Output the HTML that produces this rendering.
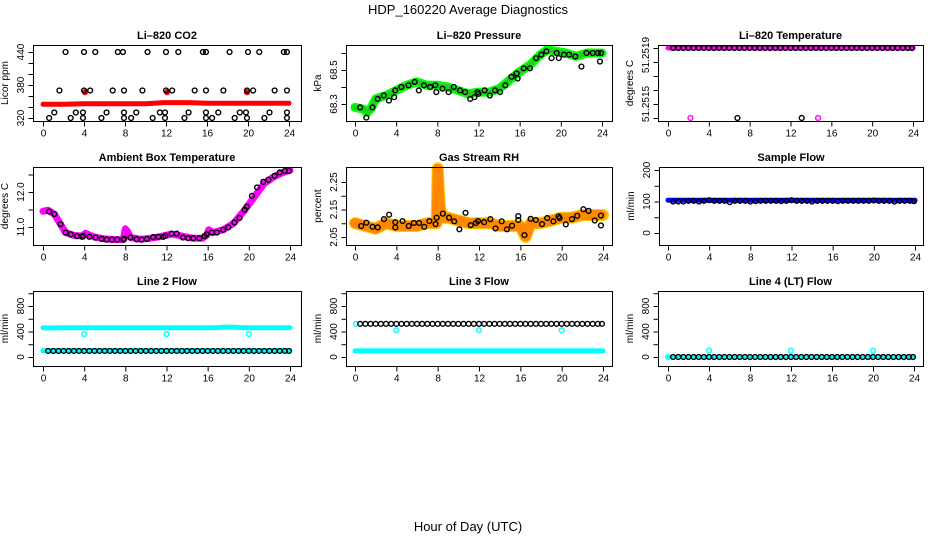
<!DOCTYPE html>
<html><head><meta charset="utf-8"><style>
html,body{margin:0;padding:0;background:#fff;}
svg{display:block;font-family:"Liberation Sans",Arial,sans-serif;}
.t{font-weight:bold;font-size:11px;}
.tk{font-size:10px;}
</style></head>
<body>
<svg id="c" width="936" height="540" viewBox="0 0 936 540">
<text x="468" y="14" text-anchor="middle" font-size="13">HDP_160220  Average Diagnostics</text>
<text x="468" y="531" text-anchor="middle" font-size="13">Hour of Day (UTC)</text>
</svg>
<script>
const xTicks=[0,4,8,12,16,20,24];
const halfHours=[0.5,1,1.5,2,2.5,3,3.5,4,4.5,5,5.5,6,6.5,7,7.5,8,8.5,9,9.5,10,10.5,11,11.5,12,12.5,13,13.5,14,14.5,15,15.5,16,16.5,17,17.5,18,18.5,19,19.5,20,20.5,21,21.5,22,22.5,23,23.5,23.9];
// CO2
const co2H440=[2.2,4,5.1,7.3,7.8,10.2,12,13.2,15.6,15.9,18.2,20,21.1,23.5,23.8];
const co2H370=[1.6,4,4.6,6.8,7.9,9.7,12,12.6,14.8,15.9,17.6,19.9,20.5,22.6,23.8];
const co2H330=[1.1,3.2,3.9,6.2,7.9,9.1,11.4,11.9,14.2,15.9,17.1,19.2,19.8,22.1,23.8];
const co2H320=[0.6,2.7,3.9,5.7,7.9,8.6,10.7,11.9,13.8,15.9,16.5,18.7,19.9,21.6,23.8];
const co2RedH=[0,2,4,6,8,10,11.8,12.5,14.2,16,18,20,22,24];
const co2RedV=[345,345,346,346,346,346,348,348,348,347,347,347,347,347];
const co2RedOutH=[4.1,12.1,19.9];
const co2RedOutV=[367,367,367];
// Pressure
const presH=[0.5,1.1,1.7,2.2,2.8,3.3,3.8,3.9,4.5,5.2,5.8,6.2,6.7,7.3,7.8,7.9,8.5,9.1,9.6,10.2,10.7,11.2,11.6,11.9,12.0,12.6,13.1,13.6,14.1,14.6,15.2,15.7,15.8,16.4,17.0,17.6,18.1,18.6,19.1,19.6,19.8,20.3,20.8,21.4,22.0,22.5,23.1,23.6,23.8,23.9];
const presV=[68.28,68.22,68.28,68.33,68.35,68.32,68.34,68.38,68.40,68.41,68.43,68.38,68.41,68.40,68.41,68.37,68.39,68.37,68.40,68.38,68.37,68.33,68.34,68.37,68.36,68.38,68.35,68.38,68.37,68.41,68.46,68.48,68.45,68.51,68.51,68.57,68.59,68.61,68.57,68.60,68.57,68.59,68.59,68.58,68.52,68.60,68.60,68.60,68.55,68.60];
const presGreenH=[0,0.8,1.2,1.6,2.0,3,4,5,6,7,8,9,10,11,12,13,14,15,16,17,18,18.7,19.5,20.5,21.5,22.5,24];
const presGreenV=[68.28,68.27,68.25,68.28,68.33,68.35,68.38,68.41,68.43,68.41,68.41,68.40,68.38,68.36,68.37,68.37,68.39,68.44,68.49,68.53,68.59,68.62,68.61,68.60,68.58,68.60,68.60];
// Li-820 temperature
const tempTop=51.2519;
const tempMagOutH=[2.2,14.7];
const tempBlkOutH=[6.8,13.1];
const tempLow=51.2514;
// Ambient box temperature
const ambH=[0.6,1.1,1.7,2.2,2.7,3.3,3.8,3.9,4.5,5.1,5.7,6.2,6.7,7.2,7.8,7.9,8.5,9.1,9.6,10.1,10.7,11.2,11.7,11.9,12.5,13.0,13.6,14.1,14.6,15.2,15.7,15.9,16.4,16.9,17.5,18.0,18.6,19.1,19.6,19.8,20.3,20.8,21.4,21.9,22.5,23.0,23.5,23.9];
const ambV=[11.44,11.37,11.08,10.84,10.79,10.74,10.72,10.75,10.72,10.70,10.66,10.64,10.64,10.64,10.64,10.66,10.70,10.65,10.64,10.66,10.71,10.72,10.72,10.75,10.81,10.81,10.70,10.68,10.68,10.68,10.74,10.79,10.84,10.84,10.92,10.99,11.13,11.26,11.49,11.58,11.89,12.13,12.29,12.35,12.46,12.56,12.60,12.60];
const ambMagH=[0,0.5,1.1,1.7,2.2,3,3.9,4.1,5,6,7,7.8,8.0,8.2,8.5,9.5,10.5,11.5,12.5,13.5,14.5,15.5,15.9,16.1,16.5,17.5,18.5,19.5,20.5,21.5,22.5,23.5,24];
const ambMagV=[11.45,11.48,11.37,11.08,10.84,10.76,10.74,10.82,10.71,10.66,10.64,10.64,10.95,10.88,10.70,10.65,10.68,10.73,10.80,10.74,10.68,10.68,10.76,10.92,10.84,10.92,11.10,11.45,11.85,12.25,12.45,12.58,12.62];
// Gas stream RH
const rhH=[0.6,1.1,1.7,2.2,2.8,3.3,3.9,3.9,4.6,5.2,5.7,6.2,6.7,7.2,7.8,7.9,8.5,9.1,9.6,10.1,10.7,11.2,11.7,11.9,12.5,13.1,13.6,14.2,14.7,15.2,15.8,15.8,16.4,17.0,17.5,18.1,18.6,19.2,19.7,19.8,20.4,21.0,21.5,22.1,22.6,23.2,23.8,23.8];
const rhV=[2.090,2.102,2.087,2.085,2.115,2.131,2.104,2.085,2.108,2.090,2.101,2.101,2.087,2.108,2.097,2.120,2.135,2.120,2.107,2.078,2.138,2.093,2.101,2.108,2.104,2.115,2.081,2.107,2.078,2.091,2.112,2.126,2.057,2.116,2.112,2.097,2.119,2.107,2.125,2.119,2.096,2.115,2.127,2.151,2.145,2.110,2.128,2.092];
const rhBandH=[0,1,2,3,4,5,6,7,7.9,8.0,8.1,8.2,8.3,8.6,9,10,11,12,13,14,15,16,16.5,17,18,19,20,21,22,23,24];
const rhBandV=[2.10,2.09,2.08,2.10,2.09,2.09,2.09,2.10,2.10,2.30,2.23,2.17,2.14,2.12,2.12,2.11,2.10,2.10,2.10,2.09,2.09,2.09,2.05,2.10,2.10,2.11,2.12,2.12,2.13,2.13,2.13];
// Sample flow
const sfBlue=[104,104];
const sfBlueH=[0,24];
const sfBlack=[100,100,100,102,102,100,102,104,102,102,102,98,102,102,102,100,101,102,102,102,102,101,102,104,102,102,102,100,102,102,102,102,101,102,102,102,102,102,102,103,102,102,102,100,102,102,102,101];
// Line 2 flow
const l2CyanHighH=[0,0.5,2,8,16,17,18,19,20,24];
const l2CyanHighV=[460,455,460,460,460,462,470,462,460,460];
const l2CyanOutH=[4,12,20];
const l2CyanOutV=[360,360,360];
const l2Black=[95,95,95,95,95,95,95,95,95,95,95,95,95,95,95,95,95,95,95,95,95,95,95,95,95,95,95,95,95,95,95,95,95,95,95,95,95,95,95,95,95,95,95,95,95,95,95,95];
const l2CyanLowV=[100,100];
// Line 3 flow
const l3Black=[520,520,520,520,520,520,520,520,520,520,520,520,520,520,520,520,520,520,520,520,520,520,520,520,520,520,520,520,520,520,520,520,520,520,520,520,520,520,520,520,520,520,520,520,520,520,520,520];
const l3CyanOutH=[0.1,4,12,20];
const l3CyanOutV=[520,420,420,420];
const l3CyanLowV=[95,95];
// Line 4 flow
const l4Black=[0,0,0,0,0,0,0,0,0,0,0,0,0,0,0,0,0,0,0,0,0,0,0,0,0,0,0,0,0,0,0,0,0,0,0,0,0,0,0,0,0,0,0,0,0,0,0,0];
const l4CyanOutH=[0,4,12,20];
const l4CyanOutV=[0,100,100,100];
const flowTicks=[0,200,400,600,800,1000];
const flowLabels=[0,400,800];

const svg=document.getElementById('c');
const NS='http://www.w3.org/2000/svg';
function mk(tag,attrs,parent){const e=document.createElementNS(NS,tag);for(const k in attrs)e.setAttribute(k,attrs[k]);(parent||svg).appendChild(e);return e;}
function lin(d0,d1,r0,r1){return v=>r0+(v-d0)*(r1-r0)/(d1-d0);}

function panel(p){
  const g=mk('g',{});
  
  
  p.g=g;
  p.X=lin(0,24,p.x0,p.x24);
  p.Y=lin(p.yd[0],p.yd[1],p.yr[0],p.yr[1]);
  return p;
}
function frame(p){
  const g=p.g;
  const r=mk('rect',{x:p.box[0]+0.5,y:p.box[1]+0.5,width:p.box[2]-p.box[0],height:p.box[3]-p.box[1],fill:'none',stroke:'#000','stroke-width':1},g);
  
  
  const tt=mk('text',{x:(p.box[0]+p.box[2])/2,y:p.box[1]-6,'text-anchor':'middle',class:'t'},g);
  tt.textContent=p.title;
  
  
  const yb=p.box[3]+0.5;
  mk('line',{x1:p.X(0),x2:p.X(24),y1:yb,y2:yb,stroke:'#000'},g);
  xTicks.forEach(t=>{
    const x=p.X(t)+0.5;
    mk('line',{x1:x,x2:x,y1:yb,y2:yb+5,stroke:'#000'},g);
    if(p.xlabels){
      const tx=mk('text',{x:x,y:yb+15,'text-anchor':'middle',class:'tk'},g);
      tx.textContent=t;
      
      
    }
  });
  const xl=p.box[0]+0.5;
  const yt=p.yticks;
  mk('line',{x1:xl,x2:xl,y1:p.Y(yt[0]),y2:p.Y(yt[yt.length-1]),stroke:'#000'},g);
  yt.forEach(t=>{const y=p.Y(t)+0.5;mk('line',{x1:xl-5,x2:xl,y1:y,y2:y,stroke:'#000'},g);});
  (p.ylabels||[]).forEach(l=>{
    const y=p.Y(l.v!==undefined?l.v:l);
    const x=p.box[0]-9;
    const tx=mk('text',{x:x,y:y,'text-anchor':'middle',class:'tk',transform:`rotate(-90 ${x} ${y})`},g);
    if(p.yfs)tx.setAttribute('font-size',p.yfs);
    tx.textContent=l.s!==undefined?l.s:String(l);
    
    
  });
  const ax=p.box[0]-25, ay=(p.box[1]+p.box[3])/2;
  const yt2=mk('text',{x:ax,y:ay,'text-anchor':'middle',class:'tk',transform:`rotate(-90 ${ax} ${ay})`},g);
  yt2.textContent=p.ytitle;
  
  
}
function band(p,hs,vs,color,w,name,dash){
  const d=hs.map((h,i)=>p.X(h).toFixed(1)+','+p.Y(vs[i]).toFixed(1)).join(' ');
  const a={points:d,fill:'none',stroke:color,'stroke-width':w,'stroke-linejoin':'round','stroke-linecap':'round'};
  if(dash)a['stroke-dasharray']=dash;
  const e=mk('polyline',a,p.g);
  
  
}
function pts(p,hs,vs,color,name,fill){
  hs.forEach((h,i)=>{
    const c=mk('circle',{cx:p.X(h),cy:p.Y(vs[i]),r:2.4,fill:fill||'none',stroke:color,'stroke-width':1.4},p.g);
    
    
  });
}

// P1 CO2
const p1=panel({name:'co2',title:'Li–820 CO2',box:[33,45,301,121],x0:43,x24:289,yd:[320,440],yr:[118,52],yticks:[320,340,360,380,400,420,440],ylabels:[320,380,440],ytitle:'Licor ppm',xlabels:true});
band(p1,co2RedH,co2RedV,'#ff0000',5,'co2-red-series');
pts(p1,co2RedOutH,co2RedOutV,'#ff0000','co2-red-point','#ff0000');
pts(p1,co2H440,co2H440.map(()=>440),'#000','co2-black-point');
pts(p1,co2H370,co2H370.map(()=>370),'#000','co2-black-point');
pts(p1,co2H330,co2H330.map(()=>330),'#000','co2-black-point');
pts(p1,co2H320,co2H320.map(()=>320),'#000','co2-black-point');
frame(p1);
// P2 Pressure
const p2=panel({name:'pressure',title:'Li–820 Pressure',box:[346,45,612,121],x0:355,x24:602,yd:[68.3,68.5],yr:[104,70],yticks:[68.3,68.4,68.5,68.6],ylabels:[{v:68.3,s:'68.3'},{v:68.5,s:'68.5'}],ytitle:'kPa',xlabels:true});
band(p2,presGreenH,presGreenV,'#00ff00',9,'pressure-green-series');
band(p2,presGreenH,presGreenV,'#22cc22',5,'pressure-green-texture','1 3');
pts(p2,presH,presV,'#000','pressure-black-point');
frame(p2);
// P3 Li-820 temperature
const p3=panel({name:'li820-temperature',title:'Li–820 Temperature',box:[658,45,923,121],x0:668,x24:913,yd:[51.2514,51.2519],yr:[118,48],yticks:[51.2514,51.2515,51.2516,51.2517,51.2518,51.2519],ylabels:[{v:51.25185,s:'51.2519'},{v:51.25150,s:'51.2515'}],yfs:9,ytitle:'degrees C',xlabels:true});
band(p3,[0,24],[tempTop,tempTop],'#ff00ff',5,'li820-temp-magenta-series');
pts(p3,halfHours,halfHours.map(()=>tempTop),'#000','li820-temp-black-point');
pts(p3,tempMagOutH,tempMagOutH.map(()=>tempLow),'#ff00ff','li820-temp-magenta-point');
pts(p3,tempBlkOutH,tempBlkOutH.map(()=>tempLow),'#000','li820-temp-black-point');
frame(p3);
// P4 Ambient
const p4=panel({name:'ambient-temperature',title:'Ambient Box Temperature',box:[33,167,301,245],x0:43,x24:290,yd:[11,12],yr:[227,192],yticks:[11,11.5,12,12.5],ylabels:[{v:11,s:'11.0'},{v:12,s:'12.0'}],ytitle:'degrees C',xlabels:true});
band(p4,ambMagH,ambMagV,'#ff00ff',7,'ambient-magenta-series');
pts(p4,ambH,ambV,'#000','ambient-black-point');
frame(p4);
// P5 RH
const p5=panel({name:'gas-stream-rh',title:'Gas Stream RH',box:[346,167,612,245],x0:355,x24:603,yd:[2.05,2.25],yr:[237,182],yticks:[2.05,2.10,2.15,2.20,2.25],ylabels:[{v:2.05,s:'2.05'},{v:2.15,s:'2.15'},{v:2.25,s:'2.25'}],ytitle:'percent',xlabels:true});
band(p5,rhBandH,rhBandV,'#ffcc00',12,'rh-orange-series');
band(p5,rhBandH,rhBandV,'#ff8800',10,'rh-orange-texture','2 2');
pts(p5,rhH,rhV,'#000','rh-black-point');
frame(p5);
// P6 Sample flow
const p6=panel({name:'sample-flow',title:'Sample Flow',box:[659,167,923,245],x0:668,x24:915,yd:[0,200],yr:[233,170],yticks:[0,50,100,150,200],ylabels:[0,100,200],ytitle:'ml/min',xlabels:true});
band(p6,sfBlueH,sfBlue,'#0000ff',5,'sample-flow-blue-series');
pts(p6,halfHours,sfBlack,'#000','sample-flow-black-point');
frame(p6);
// P7 Line 2
const p7=panel({name:'line2-flow',title:'Line 2 Flow',box:[33,291,301,366],x0:43,x24:290,yd:[0,800],yr:[357,306],yticks:flowTicks,ylabels:flowLabels,ytitle:'ml/min',xlabels:true});
band(p7,l2CyanHighH,l2CyanHighV,'#00ffff',5,'line2-cyan-high-series');
band(p7,[0,24],l2CyanLowV,'#00ffff',5,'line2-cyan-low-series');
pts(p7,l2CyanOutH,l2CyanOutV,'#00ffff','line2-cyan-point');
pts(p7,halfHours,l2Black,'#000','line2-black-point');
frame(p7);
// P8 Line 3
const p8=panel({name:'line3-flow',title:'Line 3 Flow',box:[346,291,612,366],x0:355,x24:603,yd:[0,800],yr:[357,306],yticks:flowTicks,ylabels:flowLabels,ytitle:'ml/min',xlabels:true});
band(p8,[0,24],l3CyanLowV,'#00ffff',5,'line3-cyan-low-series');
pts(p8,l3CyanOutH,l3CyanOutV,'#00ffff','line3-cyan-point');
pts(p8,halfHours,l3Black,'#000','line3-black-point');
frame(p8);
// P9 Line 4
const p9=panel({name:'line4-flow',title:'Line 4 (LT) Flow',box:[658,291,923,366],x0:668,x24:914,yd:[0,800],yr:[357,306],yticks:flowTicks,ylabels:flowLabels,ytitle:'ml/min',xlabels:true});
band(p9,[0,24],[0,0],'#00ffff',3,'line4-cyan-series');
pts(p9,l4CyanOutH,l4CyanOutV,'#00ffff','line4-cyan-point');
pts(p9,halfHours,l4Black,'#000','line4-black-point');
frame(p9);
</script>
</body></html>
